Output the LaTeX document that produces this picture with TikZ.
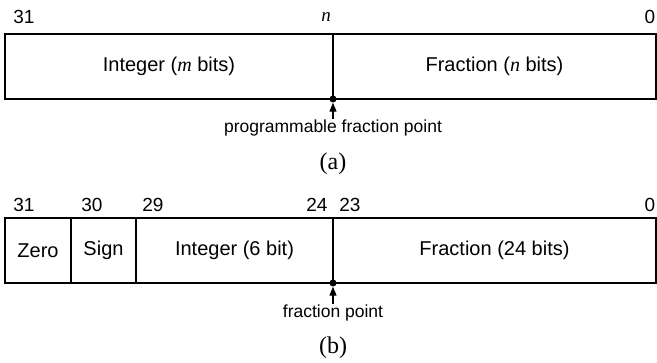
\documentclass[tikz,border=0pt]{standalone}
\usepackage{fontspec}
\setmainfont{Liberation Sans}
\newfontfamily\timesfont{Liberation Serif}
\usetikzlibrary{positioning,arrows.meta}

\tikzset{
  field/.style={draw,line width=1.5pt,minimum height=65pt,inner sep=0pt,outer sep=0pt,
    font=\fontsize{20}{22}\selectfont},
  bitno/.style={font=\fontsize{19}{21}\selectfont,inner sep=0pt},
  pointnote/.style={font=\fontsize{17.5}{19}\selectfont,inner sep=1pt},
  sublabel/.style={font=\timesfont\fontsize{24}{26}\selectfont,inner sep=0pt},
  fdot/.style={circle,fill,inner sep=0pt,minimum size=7pt},
  pointer/.style={line width=1.2pt,-{Triangle[length=9pt,width=7pt]}}
}
\newcommand{\vm}[1]{{\timesfont\itshape #1}}

\begin{document}
\begin{tikzpicture}[x=1pt,y=-1pt]
	\useasboundingbox (0,0) rectangle (657,363);
	% (a) programmable fraction point
	\node[field,minimum width=328pt,anchor=north west] (inta) at (5,34) {Integer (\vm{m} bits)};
	\node[field,minimum width=323pt,right=0pt of inta] (fraca) {Fraction (\vm{n} bits)};
	\node[bitno] (a31) at (24,17) {31};
	\node[bitno] (an) at (326,17) {\vm{n}};
	\node[bitno] (a0) at (650,17) {0};
	\node[fdot] (dota) at (inta.south east) {};
	\node[pointnote] (pfp) at (333,128) {programmable fraction point};
	\draw[pointer] (pfp.north) -- (dota.south);
	\node[sublabel] (capa) at (333,164) {(a)};
	% (b) fixed fraction point
	\node[field,minimum width=66pt,anchor=north west] (zero) at (5,218) {Zero};
	\node[field,minimum width=65pt,right=0pt of zero] (sign) {Sign};
	\node[field,minimum width=197pt,right=0pt of sign] (intb) {Integer (6 bit)};
	\node[field,minimum width=323pt,right=0pt of intb] (fracb) {Fraction (24 bits)};
	\foreach \x/\b in {24/31,92/30,153/29,317/24,350/23,650/0}
		\node[bitno] (b\b) at (\x,205) {\b};
	\node[fdot] (dotb) at (intb.south east) {};
	\node[pointnote] (fp) at (333,313) {fraction point};
	\draw[pointer] (fp.north) -- (dotb.south);
	\node[sublabel] (capb) at (333,348) {(b)};
\end{tikzpicture}
\end{document}
